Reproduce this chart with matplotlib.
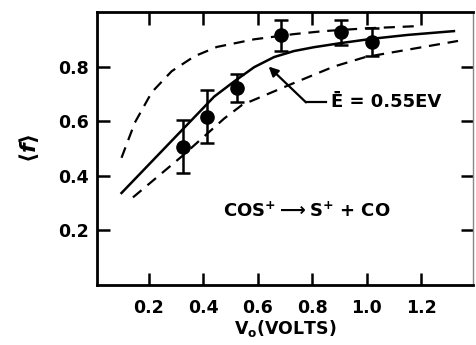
import matplotlib
matplotlib.use("Agg")
import matplotlib.pyplot as plt

# data points
v0 = [0.324, 0.412, 0.525, 0.685, 0.905, 1.021]
f_mean = [0.507, 0.617, 0.722, 0.915, 0.925, 0.890]
f_err = [0.098, 0.097, 0.052, 0.057, 0.047, 0.050]

# solid curve (E = 0.55 eV)
sol_x = [0.10, 0.44, 0.514, 0.587, 0.66, 0.733, 0.806, 0.904, 1.02, 1.15, 1.32]
sol_y = [0.337, 0.69, 0.746, 0.798, 0.835, 0.857, 0.871, 0.886, 0.902, 0.916, 0.930]

# upper dashed curve
up_x = [0.10, 0.149, 0.211, 0.284, 0.368, 0.45, 0.587, 0.733, 0.842, 0.995, 1.18]
up_y = [0.466, 0.595, 0.706, 0.783, 0.838, 0.872, 0.900, 0.919, 0.930, 0.940, 0.948]

# lower dashed curve
lo_x = [0.142, 0.32, 0.477, 0.543, 0.733, 0.879, 0.995, 1.335]
lo_y = [0.321, 0.47, 0.61, 0.66, 0.74, 0.80, 0.835, 0.894]

xticks = [0.2, 0.4, 0.6, 0.8, 1.0, 1.2]
xticklabels = ["0.2", "0.4", "0.6", "0.8", "1.0", "1.2"]
yticks = [0.2, 0.4, 0.6, 0.8]
yticklabels = ["0.2", "0.4", "0.6", "0.8"]

plt.rcParams['font.family'] = ['DejaVu Sans']
plt.rcParams['font.weight'] = 'bold'
plt.rcParams['mathtext.default'] = 'bf'

fig = plt.figure(figsize=(4.76, 3.45), dpi=100)
ax = fig.add_axes([97/476, 60/345, 376/476, 273/345])

ax.plot(sol_x, sol_y, color='black', lw=1.8)
ax.plot(up_x, up_y, color='black', lw=1.6, dashes=(5, 3.5))
ax.plot(lo_x, lo_y, color='black', lw=1.6, dashes=(5, 3.5))
ax.errorbar(v0, f_mean, yerr=f_err, fmt='o', color='black', ms=9.5,
            capsize=5, capthick=1.8, elinewidth=1.8)

# annotation
ax.plot([0.777, 0.85], [0.669, 0.669], color='black', lw=1.6)
ax.annotate("", xy=(0.64, 0.80), xytext=(0.777, 0.669),
            arrowprops=dict(arrowstyle='-|>', color='black', lw=1.6,
                            mutation_scale=14, shrinkA=0, shrinkB=0))
ax.text(0.868, 0.669, "Ē = 0.55EV", fontsize=13, fontweight='bold',
        va='center', ha='left')
ax.text(0.78, 0.27, r"COS$^{+}$$\longrightarrow$S$^{+}$ + CO", fontsize=13,
        fontweight='bold', va='center', ha='center')

ax.set_xlim(0.01, 1.39)
ax.set_ylim(0.0, 1.0)
ax.set_xticks(xticks)
ax.set_xticklabels(xticklabels)
ax.set_yticks(yticks)
ax.set_yticklabels(yticklabels)
ax.tick_params(direction='in', length=9, width=1.8, top=True, right=True,
               labelsize=12.5)
ax.tick_params(axis='x', pad=10)
ax.tick_params(axis='y', pad=6)
for lab in ax.get_xticklabels() + ax.get_yticklabels():
    lab.set_fontweight('bold')
for side in ['left', 'bottom', 'top']:
    ax.spines[side].set_linewidth(2.0)
ax.spines['right'].set_linewidth(1.0)
ax.spines['right'].set_color('#888888')

ax.set_xlabel(r"V$_\mathregular{o}$(VOLTS)", fontsize=12.5, fontweight='bold',
              labelpad=1)
ax.set_ylabel(r"$\langle \mathit{f} \rangle$", fontsize=16, labelpad=12)

fig.savefig("out.png", dpi=100)
